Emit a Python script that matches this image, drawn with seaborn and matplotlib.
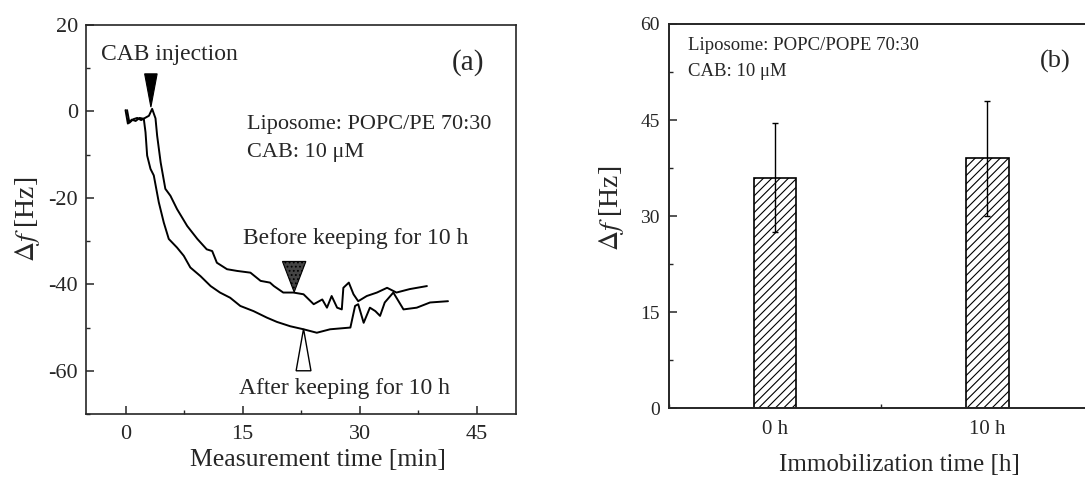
import numpy as np
import pandas as pd
import matplotlib
matplotlib.use("Agg")
import matplotlib.pyplot as plt
from matplotlib.ticker import MultipleLocator
import seaborn as sns

# panel (a): frequency shift traces
before_t = [0.2, 0.5, 1.0, 1.5, 2.0, 2.6, 3.0, 3.41, 3.84, 4.05, 4.5, 5.1, 5.75, 6.6,
            7.9, 9.2, 10.4, 11.1, 11.7, 13.0, 14.3, 16.0, 17.3, 18.5, 19.0, 20.2,
            21.5, 22.8, 24.1, 25.2, 25.8, 26.4, 27.1, 27.7, 27.9, 28.6, 29.2, 29.8,
            30.9, 32.2, 33.5, 34.7, 36.4, 38.6]
before_df = [0.3, -2.6, -1.8, -1.5, -2.0, -1.4, -1.0, 0.6, -1.6, -5.6, -11.8, -17.9,
             -19.5, -22.6, -26.5, -29.5, -31.9, -32.3, -35.0, -36.5, -36.9, -37.3,
             -39.2, -39.6, -40.4, -41.9, -41.9, -42.3, -44.6, -43.5, -45.4, -42.7,
             -45.4, -45.8, -40.8, -39.6, -42.3, -43.9, -42.7, -41.9, -40.8, -41.9,
             -41.1, -40.4]
after_t = [0.0, 0.3, 0.8, 1.3, 1.8, 2.34, 2.56, 2.77, 3.2, 3.62, 4.26, 4.9, 5.54, 6.6,
           7.46, 8.3, 9.6, 10.9, 12.1, 13.4, 14.7, 16.4, 18.1, 19.4, 21.1, 22.8, 24.5,
           26.2, 28.8, 29.4, 29.8, 30.5, 31.3, 32.0, 32.6, 33.2, 34.3, 35.6, 37.3,
           39.0, 41.3]
after_df = [0.3, -2.8, -1.9, -2.2, -1.5, -1.7, -4.8, -10.2, -13.3, -14.8, -21.0,
            -25.7, -29.5, -31.5, -33.4, -36.1, -38.1, -40.4, -41.9, -43.1, -45.0,
            -46.2, -47.7, -48.7, -49.7, -50.4, -51.2, -50.4, -50.0, -45.0, -44.6,
            -48.9, -45.4, -46.2, -47.3, -44.2, -41.9, -45.8, -45.4, -44.2, -43.9]

# panel (b): bar values
bar_labels = ["0 h", "10 h"]
bar_values = [36.0, 39.0]
bar_errors = [8.5, 9.0]

sns.set_style("ticks")
plt.rcParams["font.family"] = ["Liberation Serif", "DejaVu Serif"]
plt.rcParams["mathtext.fontset"] = "stix"
plt.rcParams["axes.unicode_minus"] = False
plt.rcParams["hatch.linewidth"] = 0.8
plt.rcParams["xtick.direction"] = "in"
plt.rcParams["ytick.direction"] = "in"

fig = plt.figure(figsize=(10.85, 4.79), dpi=100)
ax1 = fig.add_axes([0.0797, 0.1357, 0.3958, 0.8121])
ax2 = fig.add_axes([0.6166, 0.1482, 0.3834, 0.8017])

# ---- panel (a)
df_before = pd.DataFrame({"t": before_t, "df": before_df})
df_after = pd.DataFrame({"t": after_t, "df": after_df})
sns.lineplot(data=df_before, x="t", y="df", color="black", lw=1.4, ax=ax1, sort=False)
sns.lineplot(data=df_after, x="t", y="df", color="black", lw=1.4, ax=ax1, sort=False)

ax1.set_xlim(-5, 50)
ax1.set_ylim(-70, 20)
ax1.xaxis.set_major_locator(MultipleLocator(15))
ax1.xaxis.set_minor_locator(MultipleLocator(7.5))
ax1.yaxis.set_major_locator(MultipleLocator(20))
ax1.yaxis.set_minor_locator(MultipleLocator(10))
ax1.tick_params(which="major", length=6, width=1.1, labelsize=16)
ax1.tick_params(which="minor", length=3, width=1.0)
ax1.tick_params(axis="x", which="major", pad=8)
ax1.tick_params(axis="y", which="major", pad=6)
ax1.set_xlabel("Measurement time [min]", fontsize=18.5)
ax1.xaxis.set_label_coords(0.539, -0.118)
ax1.xaxis.label.set_va("center")
ax1.set_ylabel(r"$\Delta f$ [Hz]", fontsize=20)
ax1.yaxis.set_label_coords(-0.137, 0.5)
ax1.yaxis.label.set_va("center")
for sp in ax1.spines.values():
    sp.set_linewidth(1.2)
    sp.set_visible(True)


def triangle(ax, tip_x, tip_y, half_w, height, **kw):
    xs = [tip_x - half_w, tip_x + half_w, tip_x]
    ys = [tip_y + height, tip_y + height, tip_y]
    ax.fill(xs, ys, **kw)


triangle(ax1, 3.25, 1.0, 0.8, 7.7, facecolor="black", edgecolor="black", lw=0.8)
triangle(ax1, 21.6, -41.8, 1.5, 7.1, facecolor="#444444", edgecolor="black",
         hatch="....", lw=0.8)
triangle(ax1, 22.8, -50.3, 0.95, -9.7, facecolor="white", edgecolor="black", lw=1.0)

ax1.text(-3.1, 13.1, "CAB injection", fontsize=17, va="center", ha="left")
ax1.text(43.8, 11.4, "(a)", fontsize=21, va="center", ha="center")
ax1.text(15.6, -3.0, "Liposome: POPC/PE 70:30", fontsize=16, va="center", ha="left")
ax1.text(15.6, -9.6, "CAB: 10 μM", fontsize=16, va="center", ha="left")
ax1.text(15.1, -29.5, "Before keeping for 10 h", fontsize=17, va="center", ha="left")
ax1.text(14.5, -64.2, "After keeping for 10 h", fontsize=17, va="center", ha="left")

# ---- panel (b)
sns.barplot(x=bar_labels, y=bar_values, width=0.2, color="white", edgecolor="black",
            linewidth=1.2, errorbar=None, ax=ax2)
for p in ax2.patches:
    p.set_hatch("////")
ax2.errorbar(x=np.arange(len(bar_labels)), y=bar_values, yerr=bar_errors, fmt="none",
             ecolor="black", elinewidth=1.0, capsize=2.5, capthick=1.0)

ax2.set_xlim(-0.5, 1.46)
ax2.set_ylim(0, 60)
ax2.yaxis.set_major_locator(MultipleLocator(15))
ax2.yaxis.set_minor_locator(MultipleLocator(7.5))
ax2.xaxis.set_minor_locator(MultipleLocator(0.5))
ax2.tick_params(axis="y", which="major", length=6, width=1.1, labelsize=14, pad=6.5)
ax2.tick_params(axis="y", which="minor", length=3, width=1.0)
ax2.tick_params(axis="x", which="major", length=0, labelsize=15, pad=8.5)
ax2.tick_params(axis="x", which="minor", length=3, width=1.0)
ax2.set_xlabel("Immobilization time [h]", fontsize=18)
ax2.xaxis.set_label_coords(0.553, -0.148)
ax2.xaxis.label.set_va("center")
ax2.set_ylabel(r"$\Delta f$ [Hz]", fontsize=20)
ax2.yaxis.set_label_coords(-0.139, 0.52)
ax2.yaxis.label.set_va("center")
for sp in ax2.spines.values():
    sp.set_linewidth(1.4)
ax2.spines["right"].set_visible(False)

ax2.text(-0.41, 56.7, "Liposome: POPC/POPE 70:30", fontsize=13.5, va="center", ha="left")
ax2.text(-0.41, 52.5, "CAB: 10 μM", fontsize=13.5, va="center", ha="left")
ax2.text(1.32, 54.1, "(b)", fontsize=19, va="center", ha="center")

fig.savefig("out.png", dpi=100)
